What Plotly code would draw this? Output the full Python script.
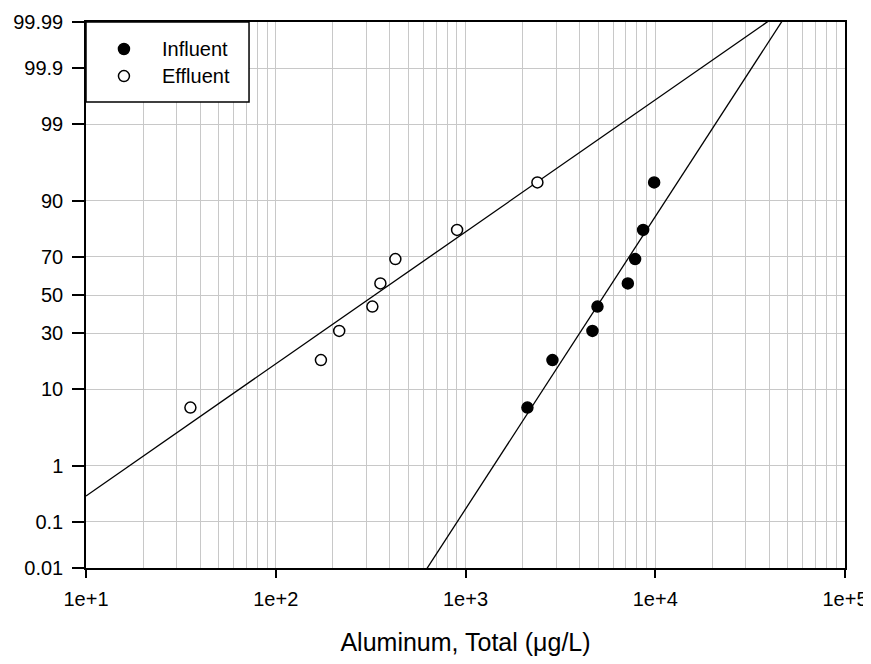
import plotly.graph_objects as go
from statistics import NormalDist

# ---- data ----
percentiles = [6.25, 18.75, 31.25, 43.75, 56.25, 68.75, 81.25, 93.75]
influent = [2120, 2872, 4667, 4960, 7170, 7834, 8633, 9867]
effluent = [35.5, 173, 216, 323, 356, 427, 903, 2393]
# fitted lognormal lines: (mean of log10, sd of log10)
influent_fit = (3.732, 0.251)
effluent_fit = (2.522, 0.556)

y_tick_labels = ["0.01", "0.1", "1", "10", "30", "50", "70", "90", "99", "99.9", "99.99"]
x_tick_labels = ["1e+1", "1e+2", "1e+3", "1e+4", "1e+5"]
x_title = "Aluminum, Total (μg/L)"
series_names = ["Influent", "Effluent"]

nd = NormalDist()


def z(p):
    return nd.inv_cdf(p / 100.0)


y_tickvals = [z(float(s)) for s in y_tick_labels]
x_tickvals = [float(s) for s in x_tick_labels]
x_minor = [m * d for d in x_tickvals[:-1] for m in range(2, 10)]

ymin, ymax = y_tickvals[0], y_tickvals[-1]
xlog_lo, xlog_hi = 1, 5


def fit_line(fit):
    mu, sd = fit
    xs = [10 ** xlog_lo, 10 ** xlog_hi]
    zs = [(xlog_lo - mu) / sd, (xlog_hi - mu) / sd]
    return xs, zs


def frac_x(f):
    return 10 ** (xlog_lo + f * (xlog_hi - xlog_lo))


def frac_y(f):
    return ymin + f * (ymax - ymin)


fig = go.Figure()

for fit in (effluent_fit, influent_fit):
    xs, zs = fit_line(fit)
    fig.add_trace(go.Scatter(x=xs, y=zs, mode="lines", showlegend=False,
                             line=dict(color="black", width=1.3), hoverinfo="skip"))

# ---- legend box (drawn like the original: marker, gap, label) ----
leg_x0, leg_x1, leg_y0, leg_y1 = 0.0, 0.2148, 0.8535, 1.0
leg_marker_x = 0.050
leg_text_x = 0.0975
leg_rows = [0.9505, 0.901]
bx = [frac_x(leg_x0), frac_x(leg_x1), frac_x(leg_x1), frac_x(leg_x0), frac_x(leg_x0)]
by = [frac_y(leg_y0), frac_y(leg_y0), frac_y(leg_y1), frac_y(leg_y1), frac_y(leg_y0)]
fig.add_trace(go.Scatter(x=bx, y=by, mode="lines", fill="toself", fillcolor="white",
                         line=dict(color="black", width=1.5), showlegend=False,
                         hoverinfo="skip", cliponaxis=False))

fill = {"Influent": "black", "Effluent": "white"}
for name, vals in zip(series_names, (influent, effluent)):
    fig.add_trace(go.Scatter(
        x=vals, y=[z(p) for p in percentiles], mode="markers", name=name, showlegend=False,
        marker=dict(size=11, color=fill[name], line=dict(color="black", width=1.5))))

for name, ry in zip(series_names, leg_rows):
    fig.add_trace(go.Scatter(
        x=[frac_x(leg_marker_x)], y=[frac_y(ry)], mode="markers", showlegend=False,
        hoverinfo="skip",
        marker=dict(size=11, color=fill[name], line=dict(color="black", width=1.5))))
    fig.add_annotation(xref="x domain", yref="y domain", x=leg_text_x, y=ry,
                       text=name, showarrow=False, xanchor="left", yanchor="middle",
                       font=dict(size=20, color="black"))

font = "Liberation Sans, Arial, sans-serif"
grid = "#c8c8c8"

# page body adds an 8px offset; size/margins compensate so the plot area
# lands at x 86-845, y 22-568 in the 871x664 window
fig.update_layout(
    width=863, height=648,
    margin=dict(l=78, r=26, t=14, b=88),
    paper_bgcolor="white", plot_bgcolor="white",
    font=dict(family=font, size=20, color="black"),
    showlegend=False,
    xaxis=dict(
        type="log", range=[xlog_lo, xlog_hi], automargin=False,
        tickmode="array", tickvals=x_tickvals, ticktext=x_tick_labels,
        ticks="outside", ticklen=8, tickwidth=2, tickcolor="black",
        ticklabelstandoff=4, ticklabeloverflow="allow",
        showline=True, linecolor="black", linewidth=1.5, mirror=True,
        showgrid=True, gridcolor=grid, gridwidth=1,
        minor=dict(tickvals=x_minor, showgrid=True, gridcolor=grid, gridwidth=1, ticks=""),
        zeroline=False,
        title=dict(text=x_title, font=dict(size=25), standoff=26),
        tickfont=dict(size=20),
    ),
    yaxis=dict(
        range=[ymin, ymax], automargin=False,
        tickmode="array", tickvals=y_tickvals, ticktext=y_tick_labels,
        ticks="outside", ticklen=12, tickwidth=2, tickcolor="black",
        ticklabelstandoff=5, ticklabeloverflow="allow",
        showline=True, linecolor="black", linewidth=1.5, mirror=True,
        showgrid=True, gridcolor=grid, gridwidth=1,
        zeroline=False,
        tickfont=dict(size=20),
    ),
)

fig.write_html("out.html")
